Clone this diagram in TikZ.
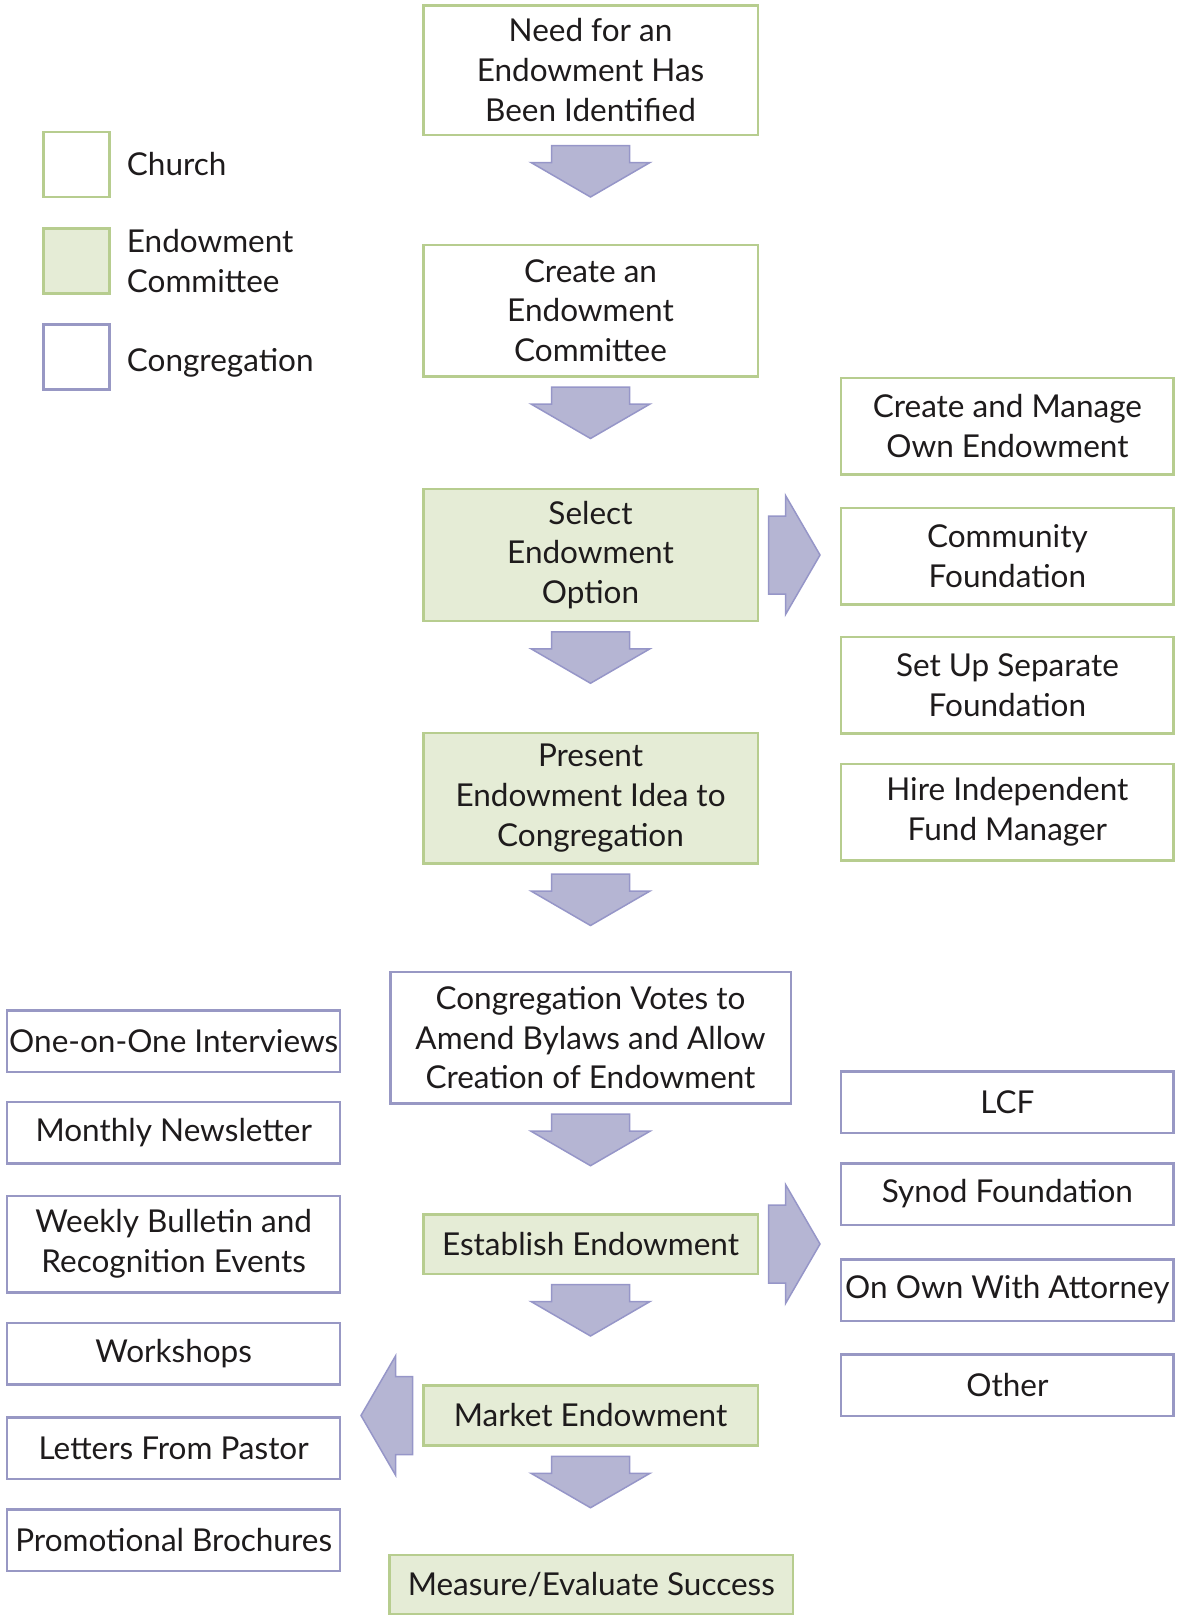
\documentclass[tikz,border=0pt]{standalone}
\usepackage{fontspec}
\setmainfont{Lato}
\definecolor{churchgreen}{RGB}{183,205,143}
\definecolor{committeefill}{RGB}{229,236,214}
\definecolor{congpurple}{RGB}{152,152,196}
\definecolor{arrowfill}{RGB}{181,181,211}
\definecolor{arrowline}{RGB}{150,150,200}
\definecolor{textgray}{RGB}{30,27,28}

\begin{document}
\begin{tikzpicture}[x=1pt, y=1pt,
  box/.style={line width=2.5pt, align=center, inner sep=0pt, text=textgray,
              font=\fontsize{31.5}{39.7}\selectfont},
  church/.style={box, draw=churchgreen, fill=white},
  committee/.style={box, draw=churchgreen, fill=committeefill},
  congregation/.style={box, draw=congpurple, fill=white},
  blockarrow/.style={fill=arrowfill, draw=arrowline, line width=1.5pt, line join=miter},
  legendtext/.style={anchor=west, align=left, inner sep=0pt, text=textgray,
              font=\fontsize{31.5}{39.7}\selectfont}]
\useasboundingbox (0,0) rectangle (1176,-1617);

% legend
\node[church, minimum width=66pt, minimum height=65pt] (keychurch) at (76.3,-164.4) {};
\node[committee, minimum width=66pt, minimum height=65pt] (keycommittee) at (76.3,-261) {};
\node[congregation, minimum width=66pt, minimum height=65pt] (keycongregation) at (76.3,-357) {};
\node[legendtext] (lchurch) at (126.7,-164.4) {Church};
\node[legendtext] (lcommittee) at (126.7,-261) {Endowment\\Committee};
\node[legendtext] (lcongregation) at (126.7,-363) {Congregation};

% main column
\node[church, minimum width=334.5pt, minimum height=129.5pt] (need) at (590.5,-70) {Need for an\\Endowment Has\\Been Identified};
\node[church, minimum width=334.5pt, minimum height=131.5pt] (create) at (590.5,-310.5) {Create an\\Endowment\\Committee};
\node[committee, minimum width=334.5pt, minimum height=132pt] (select) at (590.5,-555) {Select\\Endowment\\Option};
\node[committee, minimum width=334.5pt, minimum height=130.5pt] (present) at (590.5,-798) {Present\\Endowment Idea to\\Congregation};
\node[congregation, minimum width=400.5pt, minimum height=131.5pt] (votes) at (590.5,-1037.7) {Congregation Votes to\\Amend Bylaws and Allow\\Creation of Endowment};
\node[committee, minimum width=334.5pt, minimum height=59.5pt] (establish) at (590.5,-1244) {Establish Endowment};
\node[committee, minimum width=334.5pt, minimum height=60pt] (market) at (590.5,-1415.5) {Market Endowment};
\node[committee, minimum width=403.5pt, minimum height=59pt] (measure) at (591.3,-1584.5) {Measure/Evaluate Success};

% endowment options
\node[church, minimum width=332.5pt, minimum height=96.5pt] (own) at (1007.4,-426) {Create and Manage\\Own Endowment};
\node[church, minimum width=332.5pt, minimum height=96.5pt] (community) at (1007.4,-556) {Community\\Foundation};
\node[church, minimum width=332.5pt, minimum height=96.5pt] (separate) at (1007.4,-685) {Set Up Separate\\Foundation};
\node[church, minimum width=332.5pt, minimum height=96.5pt] (hire) at (1007.4,-812) {Hire Independent\\Fund Manager};

% establish options
\node[congregation, minimum width=332.5pt, minimum height=61.5pt] (lcf) at (1007.4,-1102) {LCF};
\node[congregation, minimum width=332.5pt, minimum height=61.5pt] (synod) at (1007.4,-1194) {Synod Foundation};
\node[congregation, minimum width=332.5pt, minimum height=61.5pt] (attorney) at (1007.4,-1290) {On Own With Attorney};
\node[congregation, minimum width=332.5pt, minimum height=61.5pt] (other) at (1007.4,-1385) {Other};

% marketing options
\node[congregation, minimum width=333pt, minimum height=61.5pt] (interviews) at (173.7,-1041) {One-on-One Interviews};
\node[congregation, minimum width=333pt, minimum height=61.5pt] (newsletter) at (173.7,-1132.7) {Monthly Newsletter};
\node[congregation, minimum width=333pt, minimum height=96.5pt] (bulletin) at (173.7,-1244) {Weekly Bulletin and\\Recognition Events};
\node[congregation, minimum width=333pt, minimum height=61.5pt] (workshops) at (173.7,-1353.5) {Workshops};
\node[congregation, minimum width=333pt, minimum height=61.5pt] (letters) at (173.7,-1448.4) {Letters From Pastor};
\node[congregation, minimum width=333pt, minimum height=61.5pt] (brochures) at (173.7,-1540) {Promotional Brochures};

% block arrows
\foreach \n/\r in {need.south/-90, create.south/-90, select.south/-90, present.south/-90,
                   votes.south/-90, establish.south/-90, market.south/-90,
                   select.east/0, establish.east/0, market.west/180}
\filldraw[blockarrow, shift={(\n)}, rotate=\r] (9.5,-39) -- (26.5,-39) -- (26.5,-59.5) -- (61,0)
                                                -- (26.5,59.5) -- (26.5,39) -- (9.5,39) -- cycle;
\end{tikzpicture}
\end{document}
